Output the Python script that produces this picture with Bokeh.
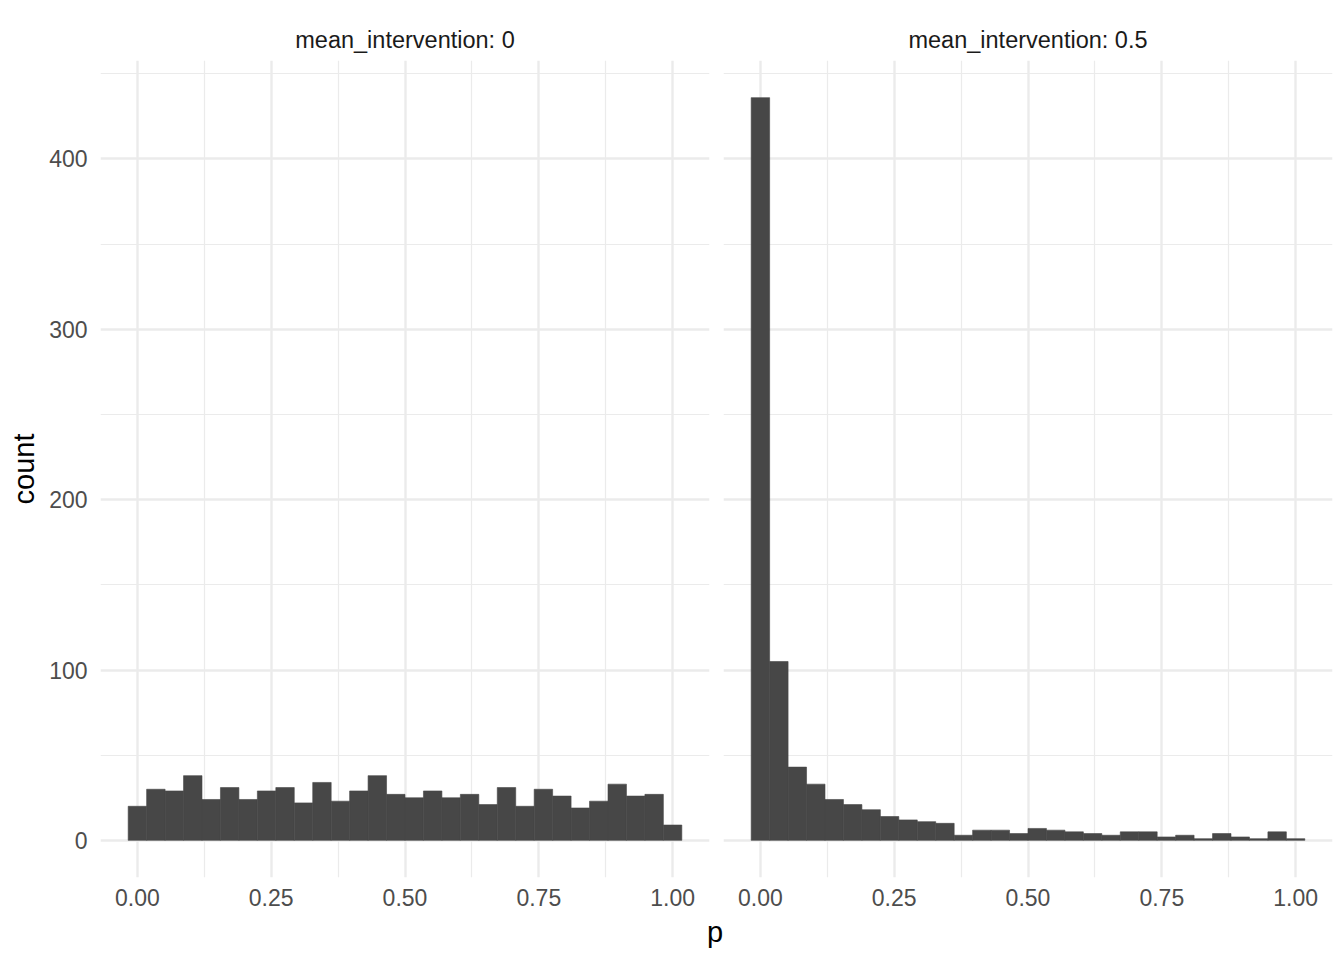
from bokeh.plotting import figure
from bokeh.layouts import row, column
from bokeh.models import Range1d, FixedTicker, Div
from bokeh.embed import file_html
from bokeh.resources import INLINE

# ---- data ----
facet_labels = ["mean_intervention: 0", "mean_intervention: 0.5"]
n_bins = 30
counts_mi0 = [20, 30, 29, 38, 24, 31, 24, 29, 31, 22, 34, 23, 29, 38, 27,
              25, 29, 25, 27, 21, 31, 20, 30, 26, 19, 23, 33, 26, 27, 9]
counts_mi05 = [436, 105, 43, 33, 24, 21, 18, 14, 12, 11, 10, 3, 6, 6, 4,
               7, 6, 5, 4, 3, 5, 5, 2, 3, 1, 4, 2, 1, 5, 1]
x_ticks = [0, 0.25, 0.5, 0.75, 1.0]
x_tick_labels = ["0.00", "0.25", "0.50", "0.75", "1.00"]
x_minor = [0.125, 0.375, 0.625, 0.875]
y_ticks = [0, 100, 200, 300, 400]
y_minor = [50, 150, 250, 350, 450]
x_title = "p"
y_title = "count"

# ---- bins (ggplot default: 30 bins centred on data min) ----
bw = 1.0 / (n_bins - 1)
lefts = [-bw / 2 + i * bw for i in range(n_bins)]
rights = [l + bw for l in lefts]

x_lo, x_hi = -bw / 2, 1 + bw / 2
x_pad = 0.05 * (x_hi - x_lo)
ymax = max(max(counts_mi0), max(counts_mi05))
y_range = Range1d(-0.05 * ymax, ymax * 1.05)

FONT = "Liberation Sans"
BAR = "#474747"
GRID = "#EBEBEB"


def make_panel(counts, title, show_y, width, bl, br):
    p = figure(width=width, height=917, output_backend="svg", toolbar_location=None,
               x_range=Range1d(x_lo - x_pad, x_hi + x_pad), y_range=y_range,
               min_border_left=bl, min_border_right=br, min_border_top=60,
               min_border_bottom=40, title=title)
    p.outline_line_color = None
    p.background_fill_color = "white"
    p.border_fill_color = "white"
    p.title.align = "center"
    p.title.text_font = FONT
    p.title.text_font_size = "23.5px"
    p.title.text_font_style = "normal"
    p.title.text_color = "#1A1A1A"
    p.title.standoff = 15

    p.quad(left=lefts, right=rights, bottom=0, top=counts,
           fill_color=BAR, line_color=BAR, line_width=0.6)

    xt = FixedTicker(ticks=x_ticks, minor_ticks=x_minor)
    yt = FixedTicker(ticks=y_ticks, minor_ticks=y_minor)
    p.xaxis.ticker = xt
    p.yaxis.ticker = yt
    p.xgrid.ticker = xt
    p.ygrid.ticker = yt
    p.xaxis.major_label_overrides = {t: l for t, l in zip(x_ticks, x_tick_labels)}
    for ax in (p.xaxis, p.yaxis):
        ax.axis_line_color = None
        ax.major_tick_line_color = None
        ax.minor_tick_line_color = None
        ax.major_label_text_font = FONT
        ax.major_label_text_font_size = "23px"
        ax.major_label_text_color = "#4D4D4D"
    p.xaxis.major_label_standoff = 5
    p.yaxis.major_label_standoff = 7
    for g in (p.xgrid, p.ygrid):
        g.grid_line_color = GRID
        g.grid_line_width = 2.4
        g.minor_grid_line_color = GRID
        g.minor_grid_line_width = 1.2
    if show_y:
        p.yaxis.axis_label = y_title
        p.yaxis.axis_label_text_font = FONT
        p.yaxis.axis_label_text_font_size = "29px"
        p.yaxis.axis_label_text_font_style = "normal"
        p.yaxis.axis_label_text_color = "black"
        p.yaxis.axis_label_standoff = 6
    else:
        p.yaxis.visible = False
    return p


p1 = make_panel(counts_mi0, facet_labels[0], True, 716, 100, 7)
p2 = make_panel(counts_mi05, facet_labels[1], False, 620, 7, 4)

xlab = Div(text=x_title, width=40, height=30, margin=(0, 0, 0, 695),
           styles={"font-size": "29px", "line-height": "30px", "text-align": "center",
                   "font-family": FONT, "color": "black"})

layout = column(row(p1, p2, spacing=0), xlab, spacing=0)

open("out.html", "w").write(file_html(layout, INLINE))
